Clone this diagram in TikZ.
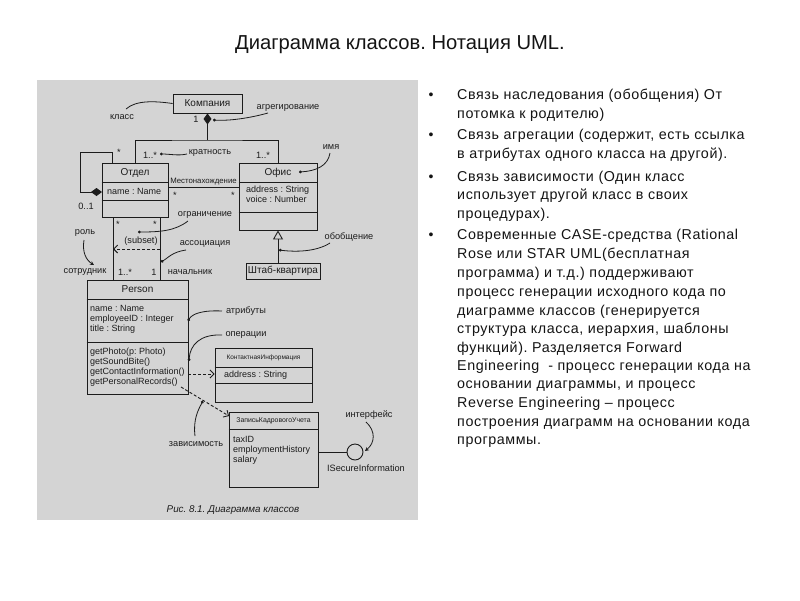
\documentclass[tikz,border=0pt]{standalone}
\usepackage{fontspec}
\setmainfont{Liberation Sans}
\usetikzlibrary{arrows.meta}
\definecolor{scanbg}{RGB}{212,212,212}
\definecolor{ink}{RGB}{28,28,28}
\definecolor{txt}{RGB}{20,20,20}
\frenchspacing
\begin{document}
\begin{tikzpicture}[x=1pt,y=-1pt,
  box/.style={draw=ink, line width=0.9pt, inner sep=0pt},
  lbl/.style={font=\fontsize{9.2}{9.5}\selectfont, text=ink, inner sep=0pt},
  cname/.style={font=\fontsize{10}{10}\selectfont, text=ink, inner sep=0pt},
  attr/.style={font=\fontsize{9}{9.8}\selectfont, text=ink, inner sep=0pt, align=left, anchor=north west},
  wire/.style={draw=ink, line width=0.9pt},
  note/.style={draw=ink, line width=0.8pt, -{Circle[length=2.8pt]}},
  dep/.style={draw=ink, line width=0.9pt, dash pattern=on 3pt off 2pt, -{Straight Barb[length=4pt,width=8pt]}},
  bline/.style={font=\fontsize{14.3}{16}\selectfont\addfontfeature{LetterSpace=4}, text=txt, anchor=base west, inner sep=0pt},
  bul/.style={font=\fontsize{14}{16}\selectfont, text=txt, anchor=base, inner sep=0pt}
]
\useasboundingbox (0,0) rectangle (800,600);
\fill[white] (0,0) rectangle (800,600);
\fill[scanbg] (37,80) rectangle (418,520);

% title
\node[font=\fontsize{20.2}{22}\selectfont, text=txt, inner sep=0pt] (title) at (400,45) {Диаграмма классов. Нотация UML.};

% ---------- classes ----------
\node[box, minimum width=69pt, minimum height=19pt] (komp) at (207.5,103.5) {};
\node[cname] (kompT) at (komp.center) {Компания};

\node[box, minimum width=66pt, minimum height=54pt] (otdel) at (135,190) {};
\node[cname] (otdelT) at (135,172.5) {Отдел};
\draw[wire] (otdel.west |- 0,182) -- (otdel.east |- 0,182);
\draw[wire] (otdel.west |- 0,200) -- (otdel.east |- 0,200);
\node[attr, anchor=west] (otdelA) at (107,191.5) {name : Name};

\node[box, minimum width=78pt, minimum height=67pt] (ofis) at (278,196.5) {};
\node[cname] (ofisT) at (278,172.5) {Офис};
\draw[wire] (ofis.west |- 0,182) -- (ofis.east |- 0,182);
\draw[wire] (ofis.west |- 0,212) -- (ofis.east |- 0,212);
\node[attr] (ofisA) at (246,186) {address : String\\voice : Number};

\node[box, minimum width=74pt, minimum height=16pt] (shtab) at (283,271) {};
\node[cname] (shtabT) at (shtab.center) {Штаб-квартира};

\node[box, minimum width=101pt, minimum height=114pt] (person) at (137.5,337) {};
\node[cname] (personT) at (137.5,289.5) {Person};
\draw[wire] (person.west |- 0,299) -- (person.east |- 0,299);
\draw[wire] (person.west |- 0,342) -- (person.east |- 0,342);
\node[attr] (personA) at (90,305.5) {name : Name\\employeeID : Integer\\title : String};
\node[attr] (personO) at (90,348) {getPhoto(p: Photo)\\getSoundBite()\\getContactInformation()\\getPersonalRecords()};

\node[box, minimum width=97pt, minimum height=54pt] (kontakt) at (263.5,375) {};
\node[font=\fontsize{6.5}{7}\selectfont, text=ink, inner sep=0pt] (kontaktT) at (263.5,357.5) {КонтактнаяИнформация};
\draw[wire] (kontakt.west |- 0,367) -- (kontakt.east |- 0,367);
\draw[wire] (kontakt.west |- 0,383) -- (kontakt.east |- 0,383);
\node[attr, anchor=west] (kontaktA) at (224,375.5) {address : String};

\node[box, minimum width=89pt, minimum height=75pt] (zapis) at (273.5,449.5) {};
\node[font=\fontsize{6.9}{7}\selectfont, text=ink, inner sep=0pt] (zapisT) at (273.5,420.5) {ЗаписьКадровогоУчета};
\draw[wire] (zapis.west |- 0,429) -- (zapis.east |- 0,429);
\node[attr] (zapisA) at (233,436.5) {taxID\\employmentHistory\\salary};

\node[draw=ink, line width=0.9pt, circle, minimum size=16pt, inner sep=0pt] (iface) at (355,452) {};
\node[lbl] (ifaceT) at (366,468) {ISecureInformation};

% ---------- connectors ----------
\coordinate (aggj) at (207.5,140);
\draw[wire, {Diamond[length=11pt,width=8pt]}-] (komp.south) -- (aggj);
\draw[wire] (otdel.north) |- (aggj) -| (ofis.north);

\coordinate (selfA) at (102,192);
\coordinate (selfB) at (112,152);
\draw[wire, {Diamond[length=11pt,width=8pt]}-] (selfA) -- ++(-22,0) |- (selfB) -- (selfB |- otdel.north);

\draw[wire] (otdel.east |- 0,187) -- (ofis.west |- 0,187);
\node[font=\fontsize{7.8}{8}\selectfont, text=ink, inner sep=0pt] (mesto) at (203.5,182) {Местонахождение};

\coordinate (asL) at (113,217);
\coordinate (asR) at (160,217);
\draw[wire] (asL) -- (asL |- person.north);
\draw[wire] (asR) -- (asR |- person.north);
\coordinate (subR) at (160,249);
\coordinate (subL) at (113,249);
\draw[dep] (subR) -- (subL);
\node[lbl] (subset) at (141,241) {(subset)};

\draw[wire, -{Triangle[open,length=9pt,width=10pt]}] (shtab.north -| ofis.south) -- (ofis.south);

\coordinate (d1s) at (188,374);
\draw[dep] (d1s) -- (kontakt.west |- d1s);
\coordinate (d2s) at (181,387);
\coordinate (d2e) at (229,416);
\draw[dep] (d2s) -- (d2e);

\draw[wire] (zapis.east |- iface) -- (iface.west);

% multiplicities
\node[lbl] (m1) at (196,119) {1};
\node[lbl] (m2) at (150,155) {1..*};
\node[lbl] (m3) at (263,155) {1..*};
\node[lbl] (m4) at (119,152) {*};
\node[lbl] (m5) at (86,206) {0..1};
\node[lbl] (m6) at (175,195) {*};
\node[lbl] (m7) at (233,195) {*};
\node[lbl] (m8) at (118,224) {*};
\node[lbl] (m9) at (155,224) {*};
\node[lbl] (m10) at (125,272) {1..*};
\node[lbl] (m11) at (154,272) {1};
\node[lbl] (sotr) at (85,272) {сотрудник};
\node[lbl] (nach) at (190,272) {начальник};

% annotations
\node[lbl] (klass) at (122,117) {класс};
\draw[wire, line width=0.8pt] (126,109) .. controls (136,100) and (155,101) .. (komp.west);
\node[lbl] (aggr) at (288,108) {агрегирование};
\draw[note] (268,113) .. controls (250,118) and (230,121) .. (213,120);
\node[lbl] (krat) at (210,153) {кратность};
\draw[note] (187,154) .. controls (178,156) and (170,154) .. (160,154);
\node[lbl] (imya) at (331,147) {имя};
\draw[note] (330,153) .. controls (328,166) and (316,171) .. (299,172);
\node[lbl] (ogr) at (205,215) {ограничение};
\draw[note] (188,221) .. controls (175,231) and (160,232) .. (138,232);
\node[lbl] (assoc) at (205,244) {ассоциация};
\draw[note] (186,250) .. controls (172,252) and (168,258) .. (161,262);
\node[lbl] (rol) at (85,233) {роль};
\draw[wire, line width=0.8pt, -{Stealth[length=4pt,width=4pt]}] (84,240) .. controls (82,252) and (86,260) .. (94,265);
\node[lbl] (atr) at (246,311) {атрибуты};
\draw[note] (222,311) .. controls (202,310) and (192,314) .. (188,321);
\node[lbl] (oper) at (246,335) {операции};
\draw[note] (222,335) .. controls (200,334) and (190,345) .. (189,361);
\node[lbl] (obob) at (349,237) {обобщение};
\draw[note] (330,243) .. controls (316,252) and (295,252) .. (279,250);
\node[lbl] (zav) at (196,444) {зависимость};
\draw[note] (195,436) .. controls (193,420) and (198,410) .. (203,401);
\node[lbl] (intf) at (369,415) {интерфейс};
\draw[wire, line width=0.8pt, -{Stealth[length=4pt,width=4pt]}] (366,422) .. controls (376,431) and (375,443) .. (365,451);

\node[font=\fontsize{9.8}{10}\selectfont\itshape, text=ink, inner sep=0pt] (cap) at (233,510) {Рис. 8.1. Диаграмма классов};

% ---------- right text ----------
\foreach \y in {99,139,181,239} \node[bul] at (431,\y) {•};
\node[bline] (t1) at (457,99) {Связь наследования (обобщения) От};
\node[bline] (t2) at (457,118) {потомка к родителю)};
\node[bline] (t3) at (457,139) {Связь агрегации (содержит, есть ссылка};
\node[bline] (t4) at (457,158) {в атрибутах одного класса на другой).};
\node[bline] (t5) at (457,181) {Связь зависимости (Один класс};
\node[bline] (t6) at (457,199) {использует другой класс в своих};
\node[bline] (t7) at (457,218) {процедурах).};
\node[bline] (t8) at (457,239) {Современные CASE-средства (Rational};
\node[bline] (t9) at (457,258) {Rose или STAR UML(бесплатная};
\node[bline] (t10) at (457,277) {программа) и т.д.) поддерживают};
\node[bline] (t11) at (457,296) {процесс генерации исходного кода по};
\node[bline] (t12) at (457,315) {диаграмме классов (генерируется};
\node[bline] (t13) at (457,333) {структура класса, иерархия, шаблоны};
\node[bline] (t14) at (457,352) {функций). Разделяется Forward};
\node[bline] (t15) at (457,370) {Engineering~~- процесс генерации кода на};
\node[bline] (t16) at (457,388) {основании диаграммы, и процесс};
\node[bline] (t17) at (457,407) {Reverse Engineering – процесс};
\node[bline] (t18) at (457,426) {построения диаграмм на основании кода};
\node[bline] (t19) at (457,444) {программы.};
\end{tikzpicture}
\end{document}
